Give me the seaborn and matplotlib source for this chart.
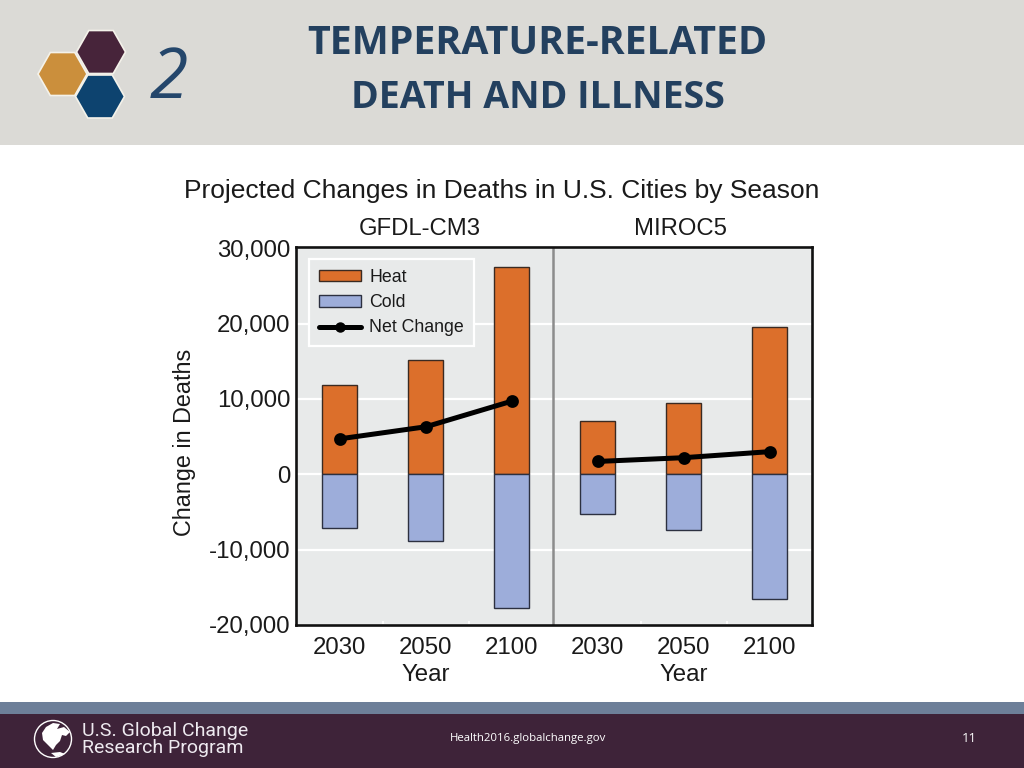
import matplotlib
matplotlib.use('Agg')
import matplotlib.pyplot as plt
import seaborn as sns
import pandas as pd
from matplotlib.patches import Patch, Rectangle, Polygon, Circle
from matplotlib.lines import Line2D

# Valeurs
models = ['GFDL-CM3', 'GFDL-CM3', 'GFDL-CM3', 'MIROC5', 'MIROC5', 'MIROC5']
years = ['2030', '2050', '2100', '2030', '2050', '2100']
heat = [11800, 15200, 27500, 7000, 9500, 19600]
cold = [-7100, -8900, -17700, -5300, -7400, -16500]
net = [4700, 6300, 9700, 1700, 2200, 3000]
y_ticks = [-20000, -10000, 0, 10000, 20000, 30000]

sns.set_theme(style='white')
plt.rcParams['font.family'] = ['Liberation Sans', 'DejaVu Sans']

df = pd.DataFrame({'model': models, 'year': years, 'heat': heat, 'cold': cold, 'net': net})
df['key'] = df['model'] + ' ' + df['year']
keys = df['key'].tolist()

W, H = 1024, 768
fig = plt.figure(figsize=(W / 100, H / 100), dpi=100, facecolor='white')

# Fond de la diapositive, en pixels
bg = fig.add_axes([0, 0, 1, 1])
bg.set_xlim(0, W)
bg.set_ylim(H, 0)
bg.axis('off')
bg.add_patch(Rectangle((0, 0), W, 145, fc='#dbdad6', ec='none'))
bg.add_patch(Rectangle((0, 702), W, 12, fc='#6d7f99', ec='none'))
bg.add_patch(Rectangle((0, 714), W, 54, fc='#3e2339', ec='none'))


def hexagon(cx, cy, color):
    rx, ry = 24.5, 21.5
    pts = [(cx - rx, cy), (cx - rx / 2, cy - ry), (cx + rx / 2, cy - ry),
           (cx + rx, cy), (cx + rx / 2, cy + ry), (cx - rx / 2, cy + ry)]
    bg.add_patch(Polygon(pts, closed=True, fc=color, ec='#f4f2ea', lw=1.2))


hexagon(101, 52, '#47243a')
hexagon(62.5, 74, '#cb8f3c')
hexagon(100, 96.5, '#0d436f')

bg.text(169, 80, '2', family='Open Sans', style='italic', fontsize=50, color='#24466b',
        ha='center', va='center')
bg.text(537, 43, 'TEMPERATURE-RELATED', family='Open Sans', weight='bold', fontsize=28.4,
        color='#23405f', ha='center', va='center')
bg.text(538, 98, 'DEATH AND ILLNESS', family='Open Sans', weight='bold', fontsize=27,
        color='#23405f', ha='center', va='center')

bg.text(502, 191, 'Projected Changes in Deaths in U.S. Cities by Season', fontsize=19,
        color='#1a1a1a', ha='center', va='center')
bg.text(420, 229, 'GFDL-CM3', fontsize=17.2, color='#1a1a1a', ha='center', va='center')
bg.text(680, 229, 'MIROC5', fontsize=17.2, color='#1a1a1a', ha='center', va='center')
bg.text(185, 442, 'Change in Deaths', fontsize=16.8, rotation=90, color='#1a1a1a',
        ha='center', va='center')

# Logo et pied de page
bg.add_patch(Circle((53, 739), 18.5, fc='#3e2339', ec='white', lw=1))
bg.add_patch(Polygon([(42, 733), (46, 727), (53, 723), (60, 724), (57, 729), (64, 727), (70, 732),
                      (66, 736), (62, 735), (60, 741), (56, 745), (53, 750), (48, 745), (43, 740)],
                     closed=True, fc='white', ec='none'))
bg.add_patch(Polygon([(51, 753), (60, 752), (65, 754), (56, 757)], closed=True, fc='white', ec='none'))
bg.text(82, 731, 'U.S. Global Change', family='Roboto', fontsize=14, color='#eeeaf0', va='center')
bg.text(82, 748, 'Research Program', family='Roboto', fontsize=14, color='#eeeaf0', va='center')
bg.text(528, 738, 'Health2016.globalchange.gov', family='Open Sans', fontsize=8.2, color='white',
        ha='center', va='center')
bg.text(969, 738, '11', family='Open Sans', fontsize=9.5, color='white', ha='center', va='center')

# Graphique principal
ax = fig.add_axes([296 / W, 1 - 625 / H, 516 / W, 378 / H], facecolor='#e8eaea')
ax.set_axisbelow(True)
ax.yaxis.grid(True, color='white', lw=1.6)

sns.barplot(data=df, x='key', y='heat', order=keys, color='#dc6f2b', saturation=1, width=0.41,
            edgecolor='#3a2a22', linewidth=1, ax=ax)
sns.barplot(data=df, x='key', y='cold', order=keys, color='#9dadda', saturation=1, width=0.41,
            edgecolor='#2c3040', linewidth=1, ax=ax)

for model in ['GFDL-CM3', 'MIROC5']:
    sns.pointplot(data=df[df['model'] == model], x='key', y='net', order=keys, color='black',
                  errorbar=None, markers='o', markersize=6.5, linewidth=3.6, ax=ax)

ax.axvline(2.48, color='#8c8c8c', lw=1.8, zorder=1.5)

ax.set_xlim(-0.51, 5.49)
ax.set_ylim(-20000, 30150)
ax.set_xlabel('')
ax.set_ylabel('')
ax.set_xticks(range(6))
ax.set_xticklabels([y + '\nYear' if y == '2050' else y for y in years], fontsize=17.3,
                   color='#1a1a1a', linespacing=1.25)
ax.set_xticks([0.5, 1.5, 3.5, 4.5], minor=True)
ax.set_yticks(y_ticks)
ax.set_yticklabels([f'{v:,}' for v in y_ticks], fontsize=17.3, color='#1a1a1a')
ax.tick_params(axis='y', length=0, pad=4)
ax.tick_params(axis='x', which='major', length=0, pad=9)
ax.tick_params(axis='x', which='minor', direction='in', color='white', length=3, width=1.2, bottom=True)
for spine in ax.spines.values():
    spine.set_visible(True)
    spine.set_color('#111111')
    spine.set_linewidth(1.9)

handles = [
    Patch(fc='#dc6f2b', ec='#3a2a22', lw=1, label='Heat'),
    Patch(fc='#9dadda', ec='#2c3040', lw=1, label='Cold'),
    Line2D([], [], color='black', lw=3.6, marker='o', markersize=6.5, label='Net Change'),
]
leg = ax.legend(handles=handles, loc='upper left', bbox_to_anchor=(309 / W, 1 - 259 / H),
                bbox_transform=fig.transFigure, fancybox=False, framealpha=1,
                facecolor='#e8eaea', edgecolor='white', borderaxespad=0, borderpad=0.55,
                handlelength=2.4, handleheight=0.6, handletextpad=0.43, labelspacing=0.47,
                prop={'family': 'Liberation Sans', 'size': 12.8})
leg.get_frame().set_linewidth(1.6)
for text in leg.get_texts():
    text.set_color('#1a1a1a')

fig.savefig('out.png', dpi=100)
